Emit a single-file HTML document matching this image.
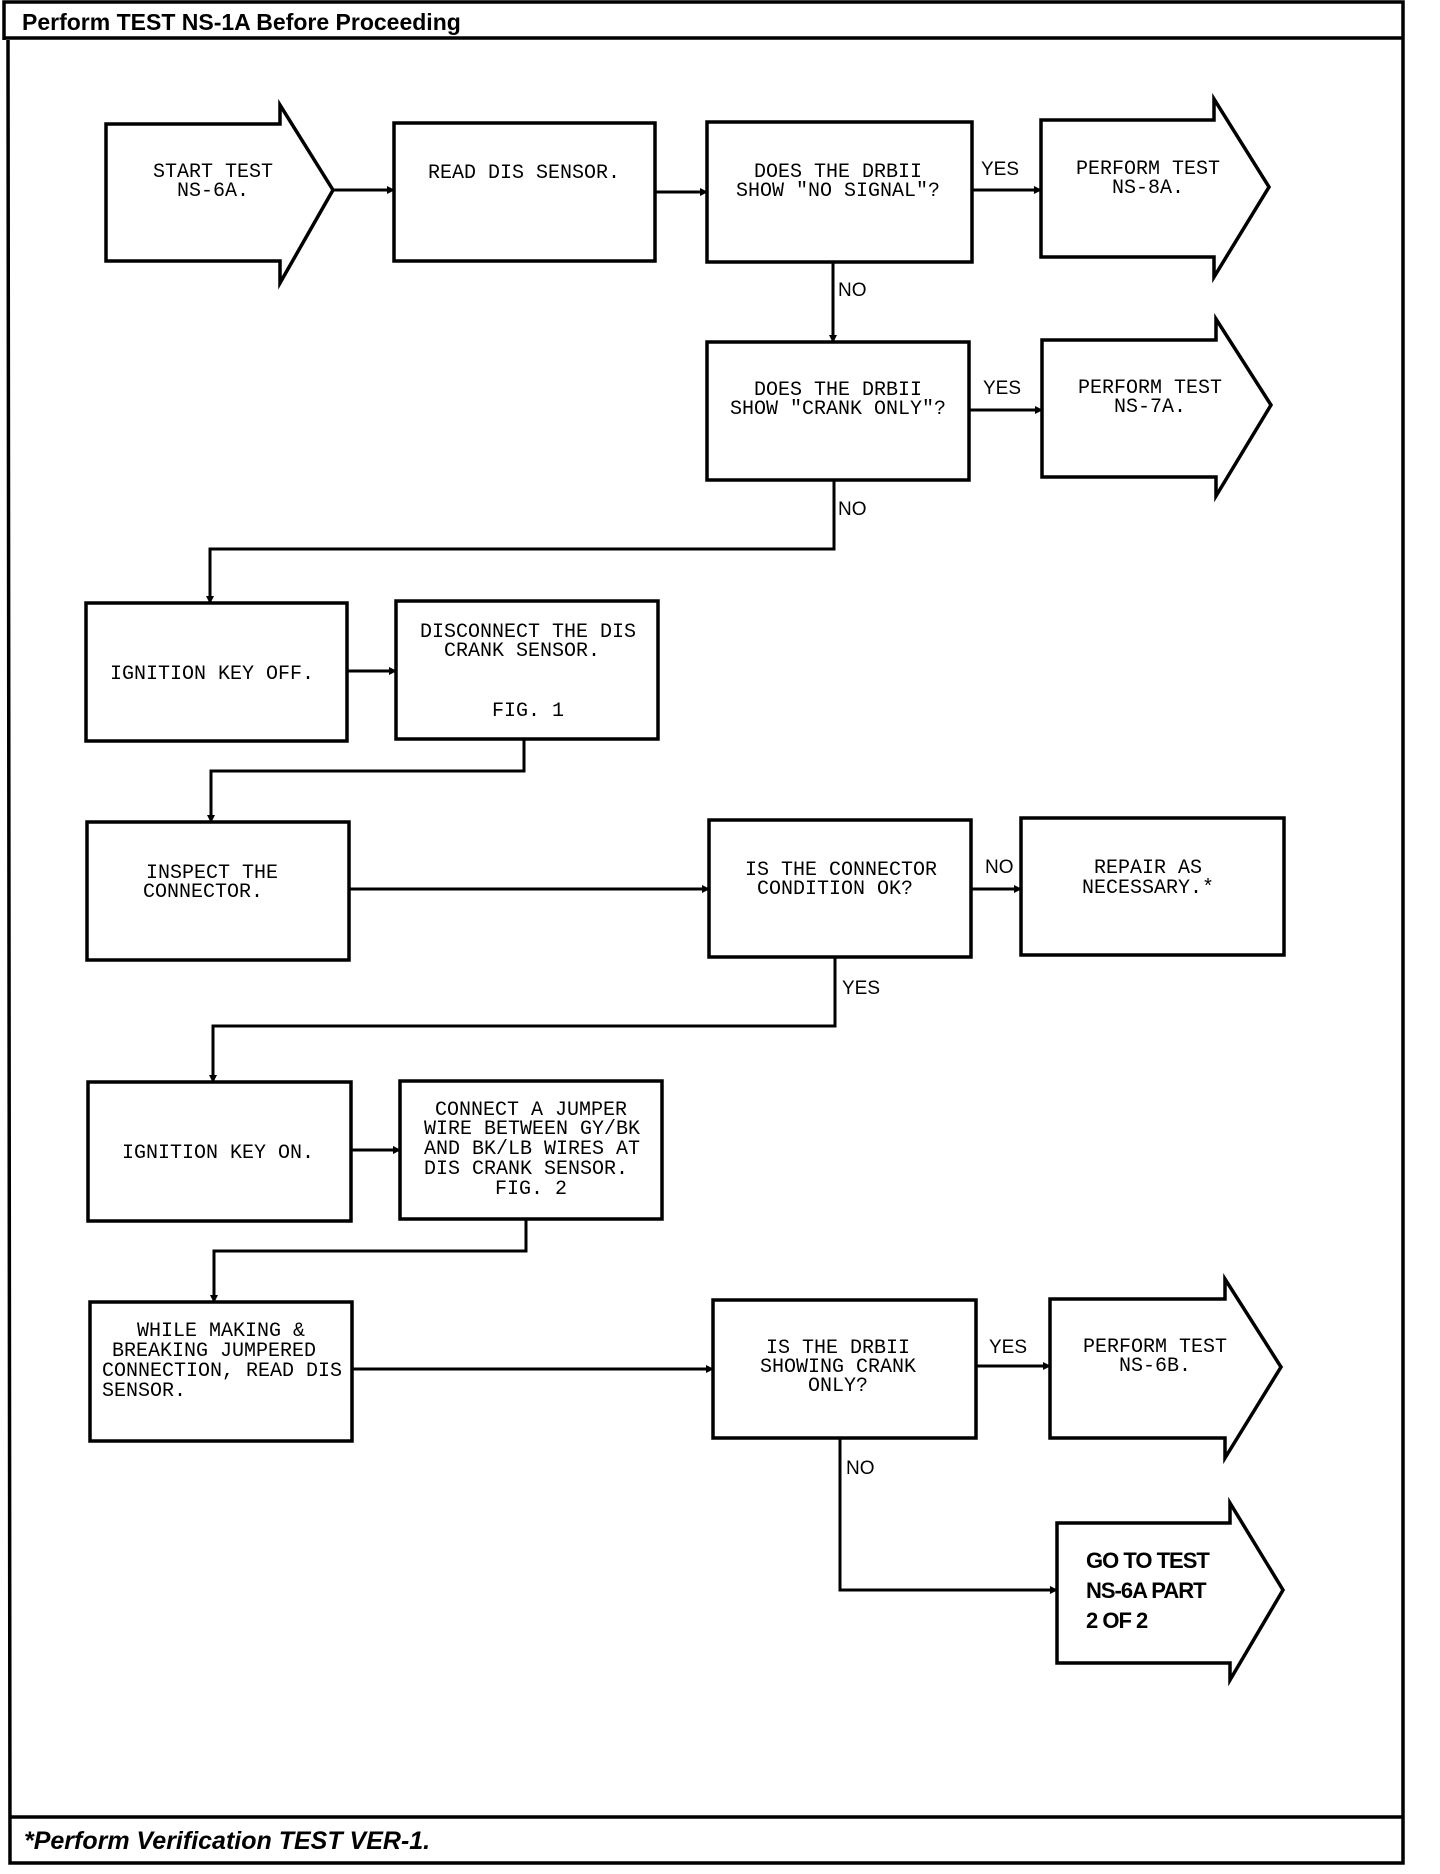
<!DOCTYPE html>
<html><head><meta charset="utf-8"><style>
html,body{margin:0;padding:0;background:#fff;}
svg{display:block;}
.m{font-family:"Liberation Mono",monospace;font-size:20px;fill:#000;}
.l{font-family:"Liberation Sans",sans-serif;font-size:19px;fill:#000;}
</style></head><body>
<svg width="1440" height="1874" viewBox="0 0 1440 1874" xmlns="http://www.w3.org/2000/svg">
<defs><marker id="a" markerWidth="8" markerHeight="8" refX="7" refY="4" orient="auto" markerUnits="userSpaceOnUse"><path d="M0,0 L8,4 L0,8 z" fill="#000"/></marker></defs>
<g fill="none" stroke="#000" stroke-width="3.5">
<polyline points="4,40 4,2 1403,2 1403,1863 10,1863 8,40"/>
<line x1="4" y1="38" x2="1403" y2="38"/>
<line x1="10" y1="1817" x2="1403" y2="1817"/>
<!-- arrows shapes -->
<polygon points="106,124 280,124 280,105 333,190 280,283 280,261 106,261"/>
<polygon points="1041,120 1214,120 1214,99 1269,187 1214,277 1214,257 1041,257"/>
<polygon points="1042,340 1216,340 1216,319 1271,405 1216,496 1216,477 1042,477"/>
<polygon points="1050,1299 1225,1299 1225,1279 1281,1367 1225,1458 1225,1438 1050,1438"/>
<polygon points="1057,1523 1230,1523 1230,1503 1283,1590 1230,1680 1230,1663 1057,1663"/>
<!-- boxes -->
<rect x="394" y="123" width="261" height="138"/>
<rect x="707" y="122" width="265" height="140"/>
<rect x="707" y="342" width="262" height="138"/>
<rect x="86" y="603" width="261" height="138"/>
<rect x="396" y="601" width="262" height="138"/>
<rect x="87" y="822" width="262" height="138"/>
<rect x="709" y="820" width="262" height="137"/>
<rect x="1021" y="818" width="263" height="137"/>
<rect x="88" y="1082" width="263" height="139"/>
<rect x="400" y="1081" width="262" height="138"/>
<rect x="90" y="1302" width="262" height="139"/>
<rect x="713" y="1300" width="263" height="138"/>
</g>
<g fill="none" stroke="#000" stroke-width="3" marker-end="url(#a)">
<line x1="333" y1="190" x2="394" y2="190"/>
<line x1="655" y1="192" x2="707" y2="192"/>
<line x1="972" y1="190" x2="1041" y2="190"/>
<line x1="833" y1="262" x2="833" y2="342"/>
<line x1="969" y1="410" x2="1042" y2="410"/>
<polyline points="834,480 834,549 210,549 210,603"/>
<line x1="347" y1="671" x2="396" y2="671"/>
<polyline points="524,739 524,771 211,771 211,822"/>
<line x1="349" y1="889" x2="709" y2="889"/>
<line x1="971" y1="889" x2="1021" y2="889"/>
<polyline points="835,957 835,1026 213,1026 213,1082"/>
<line x1="351" y1="1150" x2="400" y2="1150"/>
<polyline points="526,1219 526,1251 214,1251 214,1302"/>
<line x1="352" y1="1369" x2="713" y2="1369"/>
<line x1="976" y1="1366" x2="1050" y2="1366"/>
<polyline points="840,1438 840,1590 1057,1590"/>
</g>
<text x="22" y="30" font-family="Liberation Sans,sans-serif" font-weight="bold" font-size="23">Perform TEST NS-1A Before Proceeding</text>
<text x="24" y="1849" font-family="Liberation Sans,sans-serif" font-weight="bold" font-style="italic" font-size="25">*Perform Verification TEST VER-1.</text>
<g class="m" text-anchor="middle">
<text x="213" y="177">START TEST</text><text x="213" y="196">NS-6A.</text>
<text x="524" y="178">READ DIS SENSOR.</text>
<text x="838" y="177">DOES THE DRBII</text><text x="838" y="196">SHOW "NO SIGNAL"?</text>
<text x="1148" y="174">PERFORM TEST</text><text x="1148" y="193">NS-8A.</text>
<text x="838" y="395">DOES THE DRBII</text><text x="838" y="414">SHOW "CRANK ONLY"?</text>
<text x="1150" y="393">PERFORM TEST</text><text x="1150" y="412">NS-7A.</text>
<text x="212" y="679">IGNITION KEY OFF.</text>
<text x="528" y="637">DISCONNECT THE DIS</text><text x="522" y="656">CRANK SENSOR.</text><text x="528" y="716">FIG. 1</text>
<text x="212" y="878">INSPECT THE</text><text x="203" y="897">CONNECTOR.</text>
<text x="841" y="875">IS THE CONNECTOR</text><text x="835" y="894">CONDITION OK?</text>
<text x="1148" y="873">REPAIR AS</text><text x="1148" y="893">NECESSARY.*</text>
<text x="218" y="1158">IGNITION KEY ON.</text>
<text x="531" y="1115">CONNECT A JUMPER</text>
<text x="531" y="1194">FIG. 2</text>
<text x="221" y="1336">WHILE MAKING &amp;</text><text x="214" y="1356">BREAKING JUMPERED</text>
<text x="838" y="1353">IS THE DRBII</text><text x="838" y="1372">SHOWING CRANK</text><text x="838" y="1391">ONLY?</text>
<text x="1155" y="1352">PERFORM TEST</text><text x="1155" y="1371">NS-6B.</text>
</g>
<g class="m">
<text x="424" y="1134">WIRE BETWEEN GY/BK</text>
<text x="424" y="1154">AND BK/LB WIRES AT</text>
<text x="424" y="1174">DIS CRANK SENSOR.</text>
<text x="102" y="1376">CONNECTION, READ DIS</text>
<text x="102" y="1396">SENSOR.</text>
</g>
<g class="l">
<text x="981" y="175">YES</text>
<text x="838" y="296">NO</text>
<text x="983" y="394">YES</text>
<text x="838" y="515">NO</text>
<text x="985" y="873">NO</text>
<text x="842" y="994">YES</text>
<text x="989" y="1353">YES</text>
<text x="846" y="1474">NO</text>
</g>
<g font-family="Liberation Sans,sans-serif" font-weight="bold" font-size="22" letter-spacing="-1">
<text x="1086" y="1568">GO TO TEST</text>
<text x="1086" y="1598">NS-6A PART</text>
<text x="1086" y="1628">2 OF 2</text>
</g>
</svg>
</body></html>
